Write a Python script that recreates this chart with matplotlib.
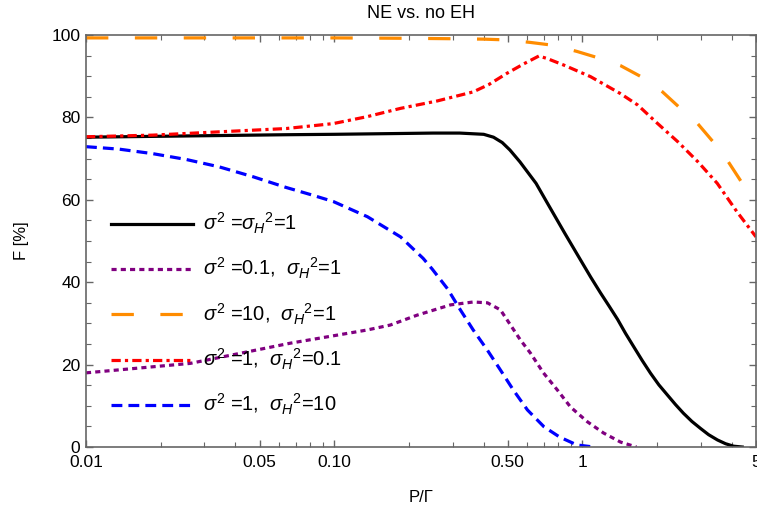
import matplotlib
matplotlib.use("Agg")
import matplotlib.pyplot as plt
from matplotlib.ticker import FixedLocator, FixedFormatter, NullFormatter

plt.rcParams["font.family"] = ["Liberation Sans", "DejaVu Sans"]
plt.rcParams["mathtext.fontset"] = "custom"
plt.rcParams["mathtext.rm"] = "Liberation Sans"
plt.rcParams["mathtext.it"] = "Liberation Sans:italic"

# sigma^2 = sigma_H^2 = 1
p_black = [0.01, 0.0186, 0.0344, 0.064, 0.10, 0.136, 0.185, 0.25, 0.32, 0.40, 0.438,
           0.475, 0.51, 0.56, 0.65, 0.722, 0.85, 0.982, 1.08, 1.182, 1.28, 1.384,
           1.49, 1.606, 1.74, 1.88, 2.03, 2.20, 2.37, 2.55, 2.76, 2.99, 3.22, 3.50,
           3.77, 4.06, 4.4]
f_black = [75.2, 75.4, 75.6, 75.8, 75.9, 76.0, 76.1, 76.2, 76.2, 75.9, 75.2,
           73.9, 72.1, 69.2, 64.0, 59.2, 51.8, 45.4, 41.2, 37.4, 34.2, 31.0,
           27.6, 24.4, 21.0, 17.9, 15.1, 12.6, 10.3, 8.2, 6.2, 4.5, 3.0, 1.7,
           0.8, 0.2, 0.0]

# sigma^2 = 0.1, sigma_H^2 = 1
p_purple = [0.01, 0.0263, 0.0665, 0.1355, 0.168, 0.2155, 0.294, 0.363, 0.414, 0.467,
            0.513, 0.562, 0.617, 0.696, 0.793, 0.895, 1.048, 1.216, 1.423, 1.65]
f_purple = [18.0, 20.3, 25.2, 28.4, 29.6, 32.0, 34.5, 35.2, 35.0, 33.3,
            29.6, 26.0, 22.8, 18.0, 13.8, 9.7, 6.1, 3.4, 1.2, 0.0]

# sigma^2 = 10, sigma_H^2 = 1
p_orange = [0.01, 0.05, 0.1, 0.2, 0.3, 0.4, 0.5, 0.617, 0.764, 0.952, 1.18, 1.42,
            1.77, 2.10, 2.48, 2.90, 3.40, 3.85, 4.36, 4.93, 5.0]
f_orange = [99.3, 99.3, 99.3, 99.2, 99.1, 99.0, 98.8, 98.2, 97.5, 96.0, 94.3, 92.6,
            89.5, 86.2, 82.2, 78.6, 73.7, 69.4, 64.4, 60.0, 59.4]

# sigma^2 = 1, sigma_H^2 = 0.1
p_red = [0.01, 0.0186, 0.0344, 0.064, 0.099, 0.136, 0.185, 0.26, 0.363, 0.42, 0.496,
         0.58, 0.667, 0.72, 0.841, 1.077, 1.42, 1.67, 2.0, 2.42, 2.92, 3.49, 4.19, 5.0]
f_red = [75.3, 75.7, 76.5, 77.3, 78.5, 80.2, 82.2, 84.0, 86.2, 88.0, 90.7,
         93.0, 94.9, 94.3, 92.7, 89.9, 85.8, 83.0, 78.6, 74.1, 69.2, 64.0, 57.1, 51.0]

# sigma^2 = 1, sigma_H^2 = 10
p_blue = [0.01, 0.0136, 0.0186, 0.0253, 0.0344, 0.0471, 0.064, 0.08, 0.099, 0.136,
          0.185, 0.228, 0.248, 0.286, 0.322, 0.363, 0.414, 0.467, 0.527, 0.60, 0.70,
          0.81, 0.95, 1.11]
f_blue = [72.9, 72.3, 71.2, 69.8, 68.0, 65.6, 63.0, 61.3, 59.6, 55.9,
          51.0, 45.8, 43.2, 38.4, 33.3, 28.4, 23.5, 18.7, 13.8, 9.0, 4.9,
          2.4, 0.5, 0.0]

labels = [
    r"$\sigma^2$ =$\sigma_H{}^2$=1",
    r"$\sigma^2$ =0.1,  $\sigma_H{}^2$=1",
    r"$\sigma^2$ =10,  $\sigma_H{}^2$=1",
    r"$\sigma^2$ =1,  $\sigma_H{}^2$=0.1",
    r"$\sigma^2$ =1,  $\sigma_H{}^2$=10",
]

xticks = [0.01, 0.05, 0.1, 0.5, 1, 5]
xticklabels = ["0.01", "0.05", "0.10", "0.50", "1", "5"]
xminor = [0.02, 0.03, 0.04, 0.06, 0.07, 0.08, 0.09, 0.2, 0.3, 0.4,
          0.6, 0.7, 0.8, 0.9, 2, 3, 4]

fig = plt.figure(figsize=(7.57, 5.15), dpi=100)
ax = fig.add_axes([0.1136, 0.132, 0.8851, 0.800])

lw = 2.3
ax.plot(p_black, f_black, color="black", lw=lw, label=labels[0])
ax.plot(p_purple, f_purple, color="#800080", lw=lw, linestyle=(0, (1.6, 1.3)),
        label=labels[1])
ax.plot(p_orange, f_orange, color="#ff8c00", lw=lw, linestyle=(0, (7.0, 8.3)),
        label=labels[2])
ax.plot(p_red, f_red, color="red", lw=lw, linestyle=(0, (2.9, 1.3, 1.0, 1.3)),
        label=labels[3])
ax.plot(p_blue, f_blue, color="blue", lw=lw, linestyle=(0, (3.4, 1.9)),
        label=labels[4])

ax.set_xscale("log")
ax.set_xlim(0.01, 5)
ax.set_ylim(0, 100)

ax.xaxis.set_major_locator(FixedLocator(xticks))
ax.xaxis.set_major_formatter(FixedFormatter(xticklabels))
ax.xaxis.set_minor_locator(FixedLocator(xminor))
ax.xaxis.set_minor_formatter(NullFormatter())
ax.set_yticks([0, 20, 40, 60, 80, 100])
ax.set_yticks(range(0, 101, 5), minor=True)

ax.tick_params(which="both", direction="in", top=True, right=True,
               color="#666666", labelsize=12.5)
ax.tick_params(axis="x", which="both", pad=6)
ax.tick_params(axis="y", which="both", pad=4)
ax.tick_params(which="major", length=5, width=1)
ax.tick_params(which="minor", length=3.5, width=0.8)
for s in ax.spines.values():
    s.set_color("#666666")
    s.set_linewidth(1.2)

ax.set_title("NE vs. no EH", fontsize=13, pad=12)
ax.set_xlabel("P/Γ", fontsize=12, labelpad=14)
ax.set_ylabel("F [%]", fontsize=12, labelpad=16)

leg = ax.legend(loc="upper left", bbox_to_anchor=(0.037, 0.573), frameon=False,
                fontsize=14.5, handlelength=4.1, handletextpad=0.5,
                labelspacing=1.0, borderpad=0, borderaxespad=0)

fig.savefig("out.png", dpi=100)
